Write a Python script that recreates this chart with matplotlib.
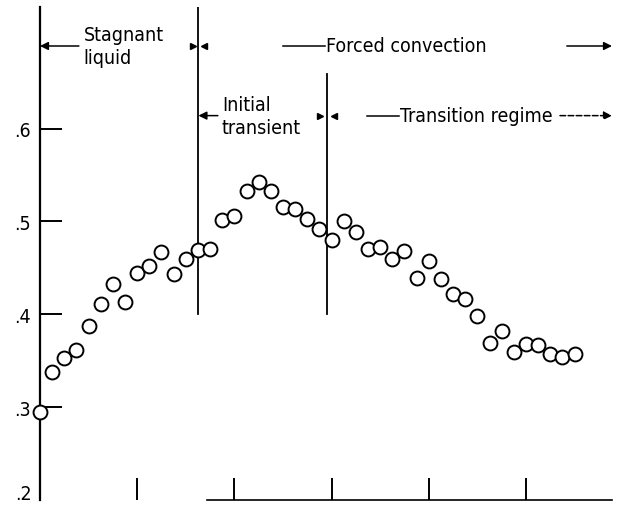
import matplotlib.pyplot as plt

# time (one point every 1/8 unit) and measured values
t = [0.0, 0.125, 0.25, 0.375, 0.5, 0.625, 0.75, 0.875,
     1.0, 1.125, 1.25, 1.375, 1.5, 1.625, 1.75, 1.875,
     2.0, 2.125, 2.25, 2.375, 2.5, 2.625, 2.75, 2.875,
     3.0, 3.125, 3.25, 3.375, 3.5, 3.625, 3.75, 3.875,
     4.0, 4.125, 4.25, 4.375, 4.5, 4.625, 4.75, 4.875,
     5.0, 5.125, 5.25, 5.375, 5.5]
val = [0.295, 0.338, 0.353, 0.362, 0.387, 0.411, 0.433, 0.413,
       0.444, 0.452, 0.467, 0.443, 0.460, 0.469, 0.470, 0.502,
       0.506, 0.533, 0.542, 0.533, 0.516, 0.513, 0.503, 0.492,
       0.480, 0.501, 0.489, 0.470, 0.473, 0.460, 0.468, 0.439,
       0.457, 0.438, 0.422, 0.417, 0.398, 0.369, 0.382, 0.359,
       0.368, 0.367, 0.357, 0.354, 0.357]

yticks = [0.3, 0.4, 0.5, 0.6]
ylabels = ['.3', '.4', '.5', '.6']
xticks = [1, 2, 3, 4, 5]

# regime boundaries
t_start = 1.63
t_trans = 2.95

fp = dict(family='DejaVu Sans', stretch='condensed', fontsize=14)

fig = plt.figure(figsize=(6.19, 5.10), dpi=100)
ax = fig.add_axes([40/619, 9/510, 572/619, 493/510])
ax.set_xlim(0, 5.885)
ax.set_ylim(0.2, 0.731)

ax.plot(t, val, 'o', mfc='white', mec='black', mew=1.4, ms=10, clip_on=False, zorder=3)

for s in ['top', 'right']:
    ax.spines[s].set_visible(False)
ax.spines['left'].set_linewidth(1.6)
ax.spines['bottom'].set_linewidth(1.2)
ax.spines['bottom'].set_bounds(1.72, 5.885)

ax.set_yticks(yticks)
ax.set_yticklabels(ylabels, **fp)
ax.set_xticks(xticks)
ax.set_xticklabels([])
ax.tick_params(axis='y', direction='in', length=16, width=1.4, pad=7)
ax.tick_params(axis='x', direction='in', length=16, width=1.4)
ax.text(-0.09, 0.207, '.2', ha='right', va='center', **fp)

# boundary lines
ax.plot([t_start, t_start], [0.4, 0.731], color='k', lw=1.3)
ax.plot([t_trans, t_trans], [0.4, 0.659], color='k', lw=1.3)

arr = dict(arrowstyle='-|>', color='k', lw=1.1, mutation_scale=12, shrinkA=0, shrinkB=0)
y1 = 0.689
y2 = 0.614

# stagnant liquid
ax.text(0.45, y1, 'Stagnant\nliquid', va='center', ha='left', linespacing=1.25, **fp)
ax.annotate('', xy=(0, y1), xytext=(0.40, y1), arrowprops=arr, annotation_clip=False)
ax.plot([t_start - 0.06], [y1], marker='>', color='k', ms=5, clip_on=False)
ax.plot([t_start + 0.06], [y1], marker='<', color='k', ms=5, clip_on=False)

# forced convection
ax.plot([2.5, 2.93], [y1, y1], color='k', lw=1.1)
ax.text(2.94, y1, 'Forced convection', va='center', ha='left', **fp)
ax.annotate('', xy=(5.885, y1), xytext=(5.42, y1), arrowprops=arr, annotation_clip=False)

# initial transient
ax.text(1.87, y2, 'Initial\ntransient', va='center', ha='left', linespacing=1.25, **fp)
ax.annotate('', xy=(t_start, y2), xytext=(1.83, y2), arrowprops=arr)

# transition regime
ax.plot([t_trans - 0.07], [y2], marker='>', color='k', ms=5)
ax.plot([t_trans + 0.07], [y2], marker='<', color='k', ms=5)
ax.plot([3.36, 3.69], [y2, y2], color='k', lw=1.1)
ax.text(3.70, y2, 'Transition regime', va='center', ha='left', **fp)
arr2 = dict(arr, linestyle='--')
ax.annotate('', xy=(5.885, y2), xytext=(5.35, y2), arrowprops=arr2, annotation_clip=False)

fig.savefig('out.png', dpi=100)
